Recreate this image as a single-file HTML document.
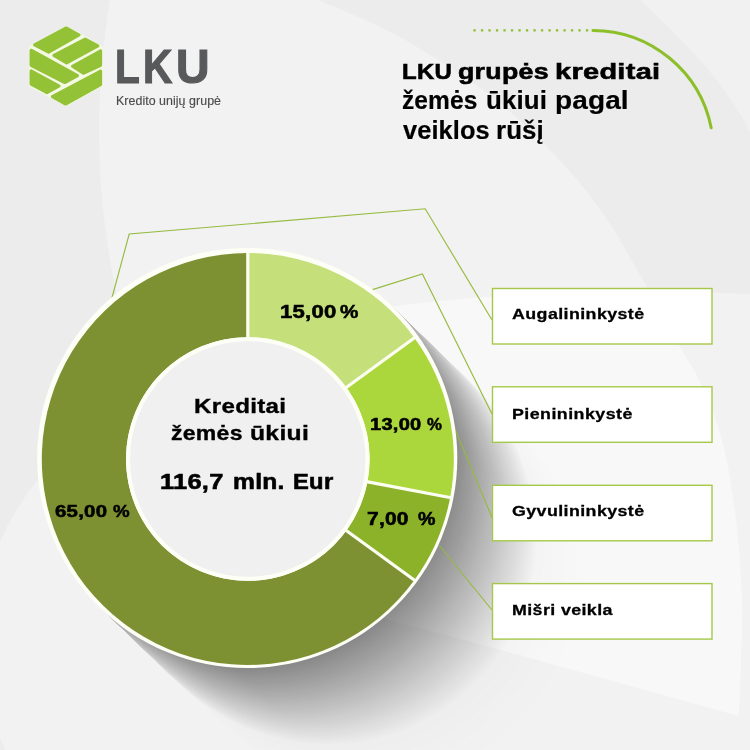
<!DOCTYPE html>
<html><head><meta charset="utf-8"><title>LKU</title>
<style>
html,body{margin:0;padding:0;}
body{width:750px;height:750px;overflow:hidden;background:#f0f0f0;font-family:"Liberation Sans",sans-serif;position:relative;}
#bg{position:absolute;left:0;top:0;width:750px;height:750px;}
#main{position:absolute;left:0;top:0;width:750px;height:750px;}
.t{position:absolute;white-space:nowrap;line-height:1;color:#000;}
</style></head><body>
<svg id="bg" viewBox="0 0 750 750">
<rect width="750" height="750" fill="#ececec"/>
<path d="M318 0 C325.8 3.3 349.3 12.7 365 20 C380.7 27.3 391.7 31.8 412 44 C432.3 56.2 464.5 75.8 487 93 C509.5 110.2 528.2 127.7 547 147 C565.8 166.3 583.3 185.7 600 209 C616.7 232.3 633.7 264.0 647 287 C660.3 310.0 671.2 331.2 680 347 C688.8 362.8 693.0 366.5 700 382 C707.0 397.5 716.0 417.0 722 440 C728.0 463.0 732.7 493.3 736 520 C739.3 546.7 741.3 573.3 742 600 C742.7 626.7 742.0 655.0 740 680 C738.0 705.0 731.7 738.3 730 750 L0 750 L0 0 Z" fill="#f2f2f2"/>
<path d="M600 291 L680 291.5 L750 294 L750 750 L600 750 Z" fill="#f2f2f2"/>
<path d="M0 0 L110.0 0 L107.6 15 L105.5 30 L103.7 45 L102.2 60 L101.0 75 L100.0 90 L99.4 105 L99.1 120 L99.0 135 L99.3 150 L99.8 165 L100.6 180 L101.7 195 L103.1 210 L104.9 225 L106.9 240 L109.2 255 L111.8 270 L114.7 285 L117.9 300 L121.4 315 L125.3 330 L129.5 345 L134.0 360 L138.8 375 L144.0 390 L149.5 405 L155.4 420 L161.6 435 L168.2 450 L175.3 465 L182.7 480 L190.5 495 L198.7 510 L207.4 525 L216.5 540 L226.1 555 L236.2 570 L246.9 585 L258.0 600 L269.8 615 L282.2 630 L295.2 645 L308.9 660 L323.4 675 L338.7 690 L354.9 705 L372.0 720 L390.2 735 L409.7 750 L0 750 Z" fill="#ececec"/>
<circle cx="230" cy="640" r="250" fill="#f2f2f2"/>
<path d="M300.0 320.1 L320.0 316.8 L340.0 313.6 L360.0 310.7 L380.0 308.0 L400.0 305.5 L420.0 303.1 L440.0 301.0 L460.0 299.1 L480.0 297.4 L500.0 295.9 L520.0 294.6 L540.0 293.5 L560.0 292.6 L580.0 291.9 L600.0 291.4 L620.0 291.1 L640.0 291.0 L652.0 296.0 C656.7 304.5 672.0 332.7 680 347 C688.0 361.3 693.0 366.5 700 382 C707.0 397.5 716.0 417.0 722 440 C728.0 463.0 732.7 493.3 736 520 C739.3 546.7 741.2 576.7 742 600 C742.8 623.3 741.5 640.7 741 660 C740.5 679.3 739.3 706.7 739 716 L450 636 L380 618 L300 600 Z" fill="#f8f8f8"/>
<path d="M640 0 C668 26 700 58 718 82 C732 100 742 116 750 132 L750 0 Z" fill="#f1f1f1"/>
<defs><linearGradient id="eg" gradientUnits="userSpaceOnUse" x1="101.7" y1="608.7" x2="392.7" y2="307.3"><stop offset="0" stop-color="#000" stop-opacity="0.3"/><stop offset="0.05" stop-color="#000" stop-opacity="0.12"/><stop offset="0.12" stop-color="#000" stop-opacity="0"/><stop offset="0.88" stop-color="#000" stop-opacity="0"/><stop offset="0.95" stop-color="#000" stop-opacity="0.12"/><stop offset="1" stop-color="#000" stop-opacity="0.3"/></linearGradient></defs><mask id="sm" maskUnits="userSpaceOnUse" x="0" y="0" width="750" height="750" style="mask-type:luminance"><rect width="750" height="750" fill="#000"/><circle cx="368.00" cy="574.66" r="209.5" fill="rgb(1,1,1)"/><circle cx="354.75" cy="561.86" r="209.5" fill="rgb(2,2,2)"/><circle cx="344.39" cy="551.85" r="209.5" fill="rgb(3,3,3)"/><circle cx="335.36" cy="543.14" r="209.5" fill="rgb(4,4,4)"/><circle cx="328.36" cy="536.37" r="209.5" fill="rgb(5,5,5)"/><circle cx="327.58" cy="535.62" r="209.5" fill="rgb(6,6,6)"/><circle cx="326.80" cy="534.87" r="209.5" fill="rgb(7,7,7)"/><circle cx="326.03" cy="534.12" r="209.5" fill="rgb(8,8,8)"/><circle cx="325.25" cy="533.37" r="209.5" fill="rgb(9,9,9)"/><circle cx="324.48" cy="532.62" r="209.5" fill="rgb(10,10,10)"/><circle cx="323.70" cy="531.88" r="209.5" fill="rgb(11,11,11)"/><circle cx="322.93" cy="531.13" r="209.5" fill="rgb(12,12,12)"/><circle cx="322.16" cy="530.38" r="209.5" fill="rgb(13,13,13)"/><circle cx="321.38" cy="529.64" r="209.5" fill="rgb(14,14,14)"/><circle cx="320.61" cy="528.89" r="209.5" fill="rgb(15,15,15)"/><circle cx="319.84" cy="528.15" r="209.5" fill="rgb(16,16,16)"/><circle cx="319.07" cy="527.40" r="209.5" fill="rgb(17,17,17)"/><circle cx="318.30" cy="526.66" r="209.5" fill="rgb(18,18,18)"/><circle cx="317.53" cy="525.91" r="209.5" fill="rgb(19,19,19)"/><circle cx="316.76" cy="525.17" r="209.5" fill="rgb(20,20,20)"/><circle cx="315.99" cy="524.43" r="209.5" fill="rgb(21,21,21)"/><circle cx="315.22" cy="523.69" r="209.5" fill="rgb(22,22,22)"/><circle cx="314.45" cy="522.94" r="209.5" fill="rgb(23,23,23)"/><circle cx="313.68" cy="522.20" r="209.5" fill="rgb(24,24,24)"/><circle cx="312.92" cy="521.46" r="209.5" fill="rgb(25,25,25)"/><circle cx="312.15" cy="520.72" r="209.5" fill="rgb(26,26,26)"/><circle cx="311.38" cy="519.98" r="209.5" fill="rgb(27,27,27)"/><circle cx="310.62" cy="519.24" r="209.5" fill="rgb(28,28,28)"/><circle cx="309.85" cy="518.50" r="209.5" fill="rgb(29,29,29)"/><circle cx="309.09" cy="517.76" r="209.5" fill="rgb(30,30,30)"/><circle cx="308.32" cy="517.03" r="209.5" fill="rgb(31,31,31)"/><circle cx="307.56" cy="516.29" r="209.5" fill="rgb(32,32,32)"/><circle cx="306.80" cy="515.55" r="209.5" fill="rgb(33,33,33)"/><circle cx="306.03" cy="514.81" r="209.5" fill="rgb(34,34,34)"/><circle cx="305.27" cy="514.08" r="209.5" fill="rgb(35,35,35)"/><circle cx="304.51" cy="513.34" r="209.5" fill="rgb(36,36,36)"/><circle cx="303.75" cy="512.61" r="209.5" fill="rgb(37,37,37)"/><circle cx="302.99" cy="511.87" r="209.5" fill="rgb(38,38,38)"/><circle cx="302.22" cy="511.14" r="209.5" fill="rgb(39,39,39)"/><circle cx="301.46" cy="510.40" r="209.5" fill="rgb(40,40,40)"/><circle cx="300.70" cy="509.67" r="209.5" fill="rgb(41,41,41)"/><circle cx="299.94" cy="508.93" r="209.5" fill="rgb(42,42,42)"/><circle cx="299.19" cy="508.20" r="209.5" fill="rgb(43,43,43)"/><circle cx="298.43" cy="507.47" r="209.5" fill="rgb(44,44,44)"/><circle cx="297.67" cy="506.74" r="209.5" fill="rgb(45,45,45)"/><circle cx="296.91" cy="506.01" r="209.5" fill="rgb(46,46,46)"/><circle cx="296.15" cy="505.27" r="209.5" fill="rgb(47,47,47)"/><circle cx="295.40" cy="504.54" r="209.5" fill="rgb(48,48,48)"/><circle cx="294.64" cy="503.81" r="209.5" fill="rgb(49,49,49)"/><circle cx="293.88" cy="503.08" r="209.5" fill="rgb(50,50,50)"/><circle cx="293.13" cy="502.35" r="209.5" fill="rgb(51,51,51)"/><circle cx="292.37" cy="501.62" r="209.5" fill="rgb(52,52,52)"/><circle cx="291.62" cy="500.89" r="209.5" fill="rgb(53,53,53)"/><circle cx="290.86" cy="500.16" r="209.5" fill="rgb(54,54,54)"/><circle cx="290.11" cy="499.44" r="209.5" fill="rgb(55,55,55)"/><circle cx="289.36" cy="498.71" r="209.5" fill="rgb(56,56,56)"/><circle cx="288.60" cy="497.98" r="209.5" fill="rgb(57,57,57)"/><circle cx="287.85" cy="497.25" r="209.5" fill="rgb(58,58,58)"/><circle cx="287.10" cy="496.53" r="209.5" fill="rgb(59,59,59)"/><circle cx="286.34" cy="495.80" r="209.5" fill="rgb(60,60,60)"/><circle cx="285.59" cy="495.07" r="209.5" fill="rgb(61,61,61)"/><circle cx="284.84" cy="494.35" r="209.5" fill="rgb(62,62,62)"/><circle cx="284.09" cy="493.62" r="209.5" fill="rgb(63,63,63)"/><circle cx="283.34" cy="492.90" r="209.5" fill="rgb(64,64,64)"/><circle cx="282.59" cy="492.17" r="209.5" fill="rgb(65,65,65)"/><circle cx="281.84" cy="491.45" r="209.5" fill="rgb(66,66,66)"/><circle cx="281.09" cy="490.73" r="209.5" fill="rgb(67,67,67)"/><circle cx="280.34" cy="490.00" r="209.5" fill="rgb(68,68,68)"/><circle cx="279.59" cy="489.28" r="209.5" fill="rgb(69,69,69)"/><circle cx="278.84" cy="488.56" r="209.5" fill="rgb(70,70,70)"/><circle cx="278.09" cy="487.83" r="209.5" fill="rgb(71,71,71)"/><circle cx="277.35" cy="487.11" r="209.5" fill="rgb(72,72,72)"/><circle cx="276.60" cy="486.39" r="209.5" fill="rgb(73,73,73)"/><circle cx="275.85" cy="485.67" r="209.5" fill="rgb(74,74,74)"/><circle cx="275.11" cy="484.95" r="209.5" fill="rgb(75,75,75)"/><circle cx="274.36" cy="484.23" r="209.5" fill="rgb(76,76,76)"/><circle cx="273.61" cy="483.51" r="209.5" fill="rgb(77,77,77)"/><circle cx="272.87" cy="482.79" r="209.5" fill="rgb(78,78,78)"/><circle cx="272.12" cy="482.07" r="209.5" fill="rgb(79,79,79)"/><circle cx="271.38" cy="481.35" r="209.5" fill="rgb(80,80,80)"/><circle cx="270.63" cy="480.63" r="209.5" fill="rgb(81,81,81)"/><circle cx="269.89" cy="479.91" r="209.5" fill="rgb(82,82,82)"/><circle cx="269.14" cy="479.19" r="209.5" fill="rgb(83,83,83)"/><circle cx="268.40" cy="478.47" r="209.5" fill="rgb(84,84,84)"/><circle cx="267.66" cy="477.76" r="209.5" fill="rgb(85,85,85)"/><circle cx="266.92" cy="477.04" r="209.5" fill="rgb(86,86,86)"/><circle cx="266.17" cy="476.32" r="209.5" fill="rgb(87,87,87)"/><circle cx="265.43" cy="475.61" r="209.5" fill="rgb(88,88,88)"/><circle cx="264.69" cy="474.89" r="209.5" fill="rgb(89,89,89)"/><circle cx="263.95" cy="474.17" r="209.5" fill="rgb(90,90,90)"/><circle cx="263.21" cy="473.46" r="209.5" fill="rgb(91,91,91)"/><circle cx="262.47" cy="472.74" r="209.5" fill="rgb(92,92,92)"/><circle cx="261.72" cy="472.03" r="209.5" fill="rgb(93,93,93)"/><circle cx="260.98" cy="471.31" r="209.5" fill="rgb(94,94,94)"/><circle cx="260.24" cy="470.60" r="209.5" fill="rgb(95,95,95)"/><circle cx="259.50" cy="469.88" r="209.5" fill="rgb(96,96,96)"/><circle cx="258.77" cy="469.17" r="209.5" fill="rgb(97,97,97)"/><circle cx="258.03" cy="468.46" r="209.5" fill="rgb(98,98,98)"/><circle cx="257.29" cy="467.74" r="209.5" fill="rgb(99,99,99)"/><circle cx="256.55" cy="467.03" r="209.5" fill="rgb(100,100,100)"/><circle cx="255.81" cy="466.32" r="209.5" fill="rgb(101,101,101)"/><circle cx="255.07" cy="465.60" r="209.5" fill="rgb(102,102,102)"/><circle cx="254.34" cy="464.89" r="209.5" fill="rgb(103,103,103)"/><circle cx="253.60" cy="464.18" r="209.5" fill="rgb(104,104,104)"/><circle cx="252.86" cy="463.47" r="209.5" fill="rgb(105,105,105)"/><circle cx="252.13" cy="462.76" r="209.5" fill="rgb(106,106,106)"/><circle cx="251.39" cy="462.05" r="209.5" fill="rgb(107,107,107)"/><circle cx="250.65" cy="461.34" r="209.5" fill="rgb(108,108,108)"/><circle cx="249.92" cy="460.63" r="209.5" fill="rgb(109,109,109)"/><circle cx="249.18" cy="459.92" r="209.5" fill="rgb(110,110,110)"/><circle cx="248.45" cy="459.21" r="209.5" fill="rgb(111,111,111)"/><circle cx="247.71" cy="458.50" r="209.5" fill="rgb(112,112,112)"/><rect width="750" height="750" fill="url(#eg)"/></mask><rect width="750" height="750" fill="#000" mask="url(#sm)"/>
</svg>
<svg id="main" viewBox="0 0 750 750">
<!-- leader lines -->
<g fill="none" stroke="#96bb40" stroke-width="1.15">
<polyline points="111.9,298 129.2,234 425.2,208.8 492,320"/>
<polyline points="371.7,289.9 422.4,273.9 492,414"/>
<polyline points="455.2,429.6 492,517.5"/>
<polyline points="439.4,545.5 492,610"/>
</g>
<!-- donut -->
<circle cx="247.20000000000002" cy="458.0" r="210.1" fill="#fdfef6"/>
<path d="M247.80 253.00 A206.0 206.0 0 0 1 414.46 337.92 L346.34 387.41 A121.8 121.8 0 0 0 247.80 337.20 Z" fill="#c5e07a"/>
<path d="M414.46 337.92 A206.0 206.0 0 0 1 450.15 497.60 L367.44 481.82 A121.8 121.8 0 0 0 346.34 387.41 Z" fill="#acd73c"/>
<path d="M450.15 497.60 A206.0 206.0 0 0 1 414.46 580.08 L346.34 530.59 A121.8 121.8 0 0 0 367.44 481.82 Z" fill="#8cb22a"/>
<path d="M414.46 580.08 A206.0 206.0 0 1 1 247.80 253.00 L247.80 337.20 A121.8 121.8 0 1 0 346.34 530.59 Z" fill="#7d9133"/>
<line x1="247.80" y1="338.20" x2="247.80" y2="252.00" stroke="#fdfef2" stroke-width="3.2"/>
<line x1="345.53" y1="388.00" x2="415.27" y2="337.33" stroke="#fdfef2" stroke-width="3.2"/>
<line x1="366.46" y1="481.64" x2="451.13" y2="497.79" stroke="#fdfef2" stroke-width="3.2"/>
<line x1="345.53" y1="530.00" x2="415.27" y2="580.67" stroke="#fdfef2" stroke-width="3.2"/>

<circle cx="247.8" cy="459.0" r="121.8" fill="#fdfef6"/>
<circle cx="247.8" cy="459.0" r="117.8" fill="#f0f0f0"/>
<!-- boxes -->
<g fill="#ffffff" stroke="#a6c84a" stroke-width="1.4">
<rect x="492.5" y="288.5" width="219.5" height="55.5"/>
<rect x="492.5" y="386.8" width="219.5" height="55.5"/>
<rect x="492.5" y="485.3" width="219.5" height="55.5"/>
<rect x="492.5" y="583.6" width="219.5" height="55.5"/>
</g>
<!-- arc + dots -->
<path d="M593 30.4 A121 121 0 0 1 711.2 127.8" fill="none" stroke="#8dbf2b" stroke-width="3" stroke-linecap="round"/>
<line x1="473.4" y1="30.4" x2="588.5" y2="30.4" stroke="#8dbf2b" stroke-width="2.3" stroke-dasharray="2.3 5.2" />
<polygon points="66,26 102.4,46.5 102.4,86 66,106 29.3,86 29.3,46.5" fill="#f3f9e2" stroke="#f3f9e2" stroke-width="1" stroke-linejoin="round"/>
<g fill="#94c236" stroke="#94c236" stroke-width="3.1" stroke-linejoin="round">
<polygon points="66.20,27.96 79.12,35.01 48.57,52.14 34.58,44.97"/>
<polygon points="85.19,39.16 97.86,45.91 66.62,62.82 53.89,55.46"/>
<polygon points="72.54,66.28 100.60,50.83 100.60,65.23 83.30,73.23"/>
<polygon points="31.10,50.23 77.49,75.69 64.79,82.54 31.10,65.27"/>
<polygon points="31.10,70.82 59.09,86.01 46.99,92.63 31.10,84.08"/>
<polygon points="100.60,71.00 100.60,84.69 65.60,104.03 52.40,96.63"/>
</g>
</svg>
<div class="t" style="left:114.66px;top:42.46px;font-size:48.6px;font-weight:bold;letter-spacing:0.000px;color:#58595b;transform:scaleX(0.8350);transform-origin:0 0;-webkit-text-stroke:1.2px currentColor;">L</div>
<div class="t" style="left:143.16px;top:42.46px;font-size:48.6px;font-weight:bold;letter-spacing:0.000px;color:#58595b;transform:scaleX(0.8358);transform-origin:0 0;-webkit-text-stroke:1.2px currentColor;">K</div>
<div class="t" style="left:175.81px;top:42.46px;font-size:48.6px;font-weight:bold;letter-spacing:0.000px;color:#58595b;transform:scaleX(0.9568);transform-origin:0 0;-webkit-text-stroke:1.2px currentColor;">U</div>
<div class="t" style="left:115.91px;top:95.00px;font-size:12.4px;font-weight:normal;letter-spacing:0.050px;color:#4c4c4c;transform:scaleX(1.0005);transform-origin:0 0;-webkit-text-stroke:0.15px currentColor;">Kredito unijų grupė</div>
<div class="t" style="left:402.14px;top:60.92px;font-size:22.3px;font-weight:bold;letter-spacing:0.250px;color:#000;transform:scaleX(1.0749);transform-origin:0 0;-webkit-text-stroke:0.6px currentColor;">LKU</div>
<div class="t" style="left:458.43px;top:60.92px;font-size:22.3px;font-weight:bold;letter-spacing:0.250px;color:#000;transform:scaleX(1.1986);transform-origin:0 0;-webkit-text-stroke:0.6px currentColor;">grupės</div>
<div class="t" style="left:555.38px;top:60.92px;font-size:22.3px;font-weight:bold;letter-spacing:0.250px;color:#000;transform:scaleX(1.2965);transform-origin:0 0;-webkit-text-stroke:0.6px currentColor;">kreditai</div>
<div class="t" style="left:402.02px;top:87.88px;font-size:25.3px;font-weight:bold;letter-spacing:0.100px;color:#000;transform:scaleX(0.9700);transform-origin:0 0;-webkit-text-stroke:0.2px currentColor;">žemės</div>
<div class="t" style="left:486.45px;top:87.88px;font-size:25.3px;font-weight:bold;letter-spacing:0.100px;color:#000;transform:scaleX(1.0239);transform-origin:0 0;-webkit-text-stroke:0.2px currentColor;">ūkiui</div>
<div class="t" style="left:554.78px;top:87.88px;font-size:25.3px;font-weight:bold;letter-spacing:0.100px;color:#000;transform:scaleX(1.1076);transform-origin:0 0;-webkit-text-stroke:0.2px currentColor;">pagal</div>
<div class="t" style="left:402.67px;top:117.58px;font-size:25.3px;font-weight:bold;letter-spacing:0.100px;color:#000;transform:scaleX(1.0032);transform-origin:0 0;-webkit-text-stroke:0.2px currentColor;">veiklos</div>
<div class="t" style="left:496.32px;top:117.58px;font-size:25.3px;font-weight:bold;letter-spacing:0.100px;color:#000;transform:scaleX(1.0231);transform-origin:0 0;-webkit-text-stroke:0.2px currentColor;">rūšį</div>
<div class="t" style="left:194.13px;top:395.69px;font-size:20.8px;font-weight:bold;letter-spacing:0.250px;color:#000;transform:scaleX(1.1609);transform-origin:0 0;-webkit-text-stroke:0.35px currentColor;">Kreditai</div>
<div class="t" style="left:171.28px;top:423.19px;font-size:20.8px;font-weight:bold;letter-spacing:0.250px;color:#000;transform:scaleX(1.1069);transform-origin:0 0;-webkit-text-stroke:0.35px currentColor;">žemės</div>
<div class="t" style="left:249.52px;top:423.19px;font-size:20.8px;font-weight:bold;letter-spacing:0.250px;color:#000;transform:scaleX(1.1869);transform-origin:0 0;-webkit-text-stroke:0.35px currentColor;">ūkiui</div>
<div class="t" style="left:159.95px;top:471.18px;font-size:22.0px;font-weight:bold;letter-spacing:0.250px;color:#000;transform:scaleX(1.1552);transform-origin:0 0;-webkit-text-stroke:0.6px currentColor;">116,7</div>
<div class="t" style="left:233.20px;top:471.18px;font-size:22.0px;font-weight:bold;letter-spacing:0.250px;color:#000;transform:scaleX(1.1183);transform-origin:0 0;-webkit-text-stroke:0.6px currentColor;">mln.</div>
<div class="t" style="left:292.76px;top:471.18px;font-size:22.0px;font-weight:bold;letter-spacing:0.250px;color:#000;transform:scaleX(1.0795);transform-origin:0 0;-webkit-text-stroke:0.6px currentColor;">Eur</div>
<div class="t" style="left:280.16px;top:303.49px;font-size:18.2px;font-weight:bold;letter-spacing:0.200px;color:#000;transform:scaleX(1.2143);transform-origin:0 0;-webkit-text-stroke:0.55px currentColor;">15,00</div>
<div class="t" style="left:340.48px;top:303.49px;font-size:18.2px;font-weight:bold;letter-spacing:0.000px;color:#000;transform:scaleX(1.1381);transform-origin:0 0;-webkit-text-stroke:0.5px currentColor;">%</div>
<div class="t" style="left:369.69px;top:415.91px;font-size:17.0px;font-weight:bold;letter-spacing:0.200px;color:#000;transform:scaleX(1.1827);transform-origin:0 0;-webkit-text-stroke:0.55px currentColor;">13,00</div>
<div class="t" style="left:426.88px;top:415.91px;font-size:17.0px;font-weight:bold;letter-spacing:0.000px;color:#000;transform:scaleX(0.9874);transform-origin:0 0;-webkit-text-stroke:0.5px currentColor;">%</div>
<div class="t" style="left:367.46px;top:509.66px;font-size:18.0px;font-weight:bold;letter-spacing:0.200px;color:#000;transform:scaleX(1.1649);transform-origin:0 0;-webkit-text-stroke:0.55px currentColor;">7,00</div>
<div class="t" style="left:418.11px;top:509.66px;font-size:18.0px;font-weight:bold;letter-spacing:0.000px;color:#000;transform:scaleX(1.0913);transform-origin:0 0;-webkit-text-stroke:0.5px currentColor;">%</div>
<div class="t" style="left:55.09px;top:502.81px;font-size:17.0px;font-weight:bold;letter-spacing:0.200px;color:#000;transform:scaleX(1.1993);transform-origin:0 0;-webkit-text-stroke:0.55px currentColor;">65,00</div>
<div class="t" style="left:112.63px;top:502.81px;font-size:17.0px;font-weight:bold;letter-spacing:0.000px;color:#000;transform:scaleX(1.0994);transform-origin:0 0;-webkit-text-stroke:0.5px currentColor;">%</div>
<div class="t" style="left:512.35px;top:305.88px;font-size:15.5px;font-weight:bold;letter-spacing:0.357px;color:#000;transform:scaleX(1.1500);transform-origin:0 0;-webkit-text-stroke:0.3px currentColor;">Augalininkystė</div>
<div class="t" style="left:512.44px;top:405.68px;font-size:15.5px;font-weight:bold;letter-spacing:0.391px;color:#000;transform:scaleX(1.1500);transform-origin:0 0;-webkit-text-stroke:0.3px currentColor;">Pienininkystė</div>
<div class="t" style="left:512.29px;top:502.88px;font-size:15.5px;font-weight:bold;letter-spacing:0.355px;color:#000;transform:scaleX(1.1500);transform-origin:0 0;-webkit-text-stroke:0.3px currentColor;">Gyvulininkystė</div>
<div class="t" style="left:512.44px;top:602.38px;font-size:15.5px;font-weight:bold;letter-spacing:0.339px;color:#000;transform:scaleX(1.1500);transform-origin:0 0;-webkit-text-stroke:0.3px currentColor;">Mišri veikla</div>
</body></html>
